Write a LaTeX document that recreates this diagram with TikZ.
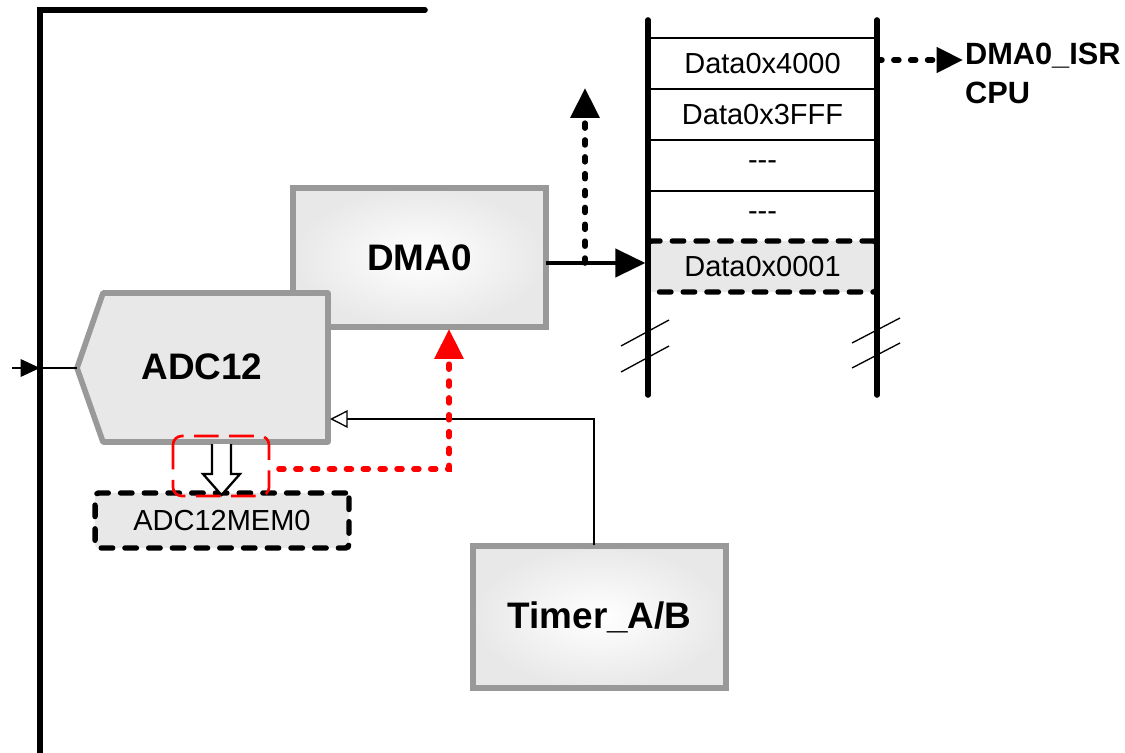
\documentclass[tikz,border=0pt]{standalone}
\usepackage{fontspec}
\setmainfont{Liberation Sans}
\usetikzlibrary{arrows.meta}

\begin{document}
\begin{tikzpicture}[x=0.02cm,y=-0.02cm,
    unit/.style={draw=gray!80,line width=3.2pt,shading=radial,inner color=white,outer color=gray!18,
        minimum width=5.06cm,minimum height=2.78cm,font=\fontsize{21}{25}\selectfont\bfseries},
    cell/.style={draw,line width=0.6pt,minimum width=4.58cm,minimum height=1.02cm,inner sep=0pt,
        font=\fontsize{16.5}{20}\selectfont},
    flagbox/.style={draw,line width=3.1pt,dash pattern=on 6.5pt off 7pt,line cap=round,
        rounded corners=2pt,fill=gray!18},
    bus/.style={line width=3.2pt,line cap=round},
    wire/.style={line width=0.75pt},
    dots/.style={line width=3.2pt,dash pattern=on 2.8pt off 6.8pt,line cap=round},
    tip/.style={-{Triangle[length=17pt,width=16pt]}}]
    \useasboundingbox (0,0) rectangle (1125,753);

    % frame
    \draw[bus,line join=miter] (425,10) -- (40,10) -- (40,760);

    % DMA0
    \node[unit] (dma) at (419.5,257.5) {DMA0};

    % ADC12
    \filldraw[draw=gray!80,fill=gray!18,line width=3.2pt,line join=round]
        (103,293) -- (328,293) -- (328,442) -- (103,442) -- (77,368) -- cycle;
    \node[font=\fontsize{21}{25}\selectfont\bfseries] (adc) at (202,367) {ADC12};
    \coordinate (adcin) at (77,368);
    \coordinate (adctrig) at (330,419);

    % input
    \coordinate (inp) at (12,368);
    \coordinate (inbus) at (40,368);
    \draw[wire,-{Triangle[length=11pt,width=10pt]}] (inp) -- (inbus);
    \draw[wire] (inbus) -- (adcin);

    % Timer
    \node[unit,minimum height=2.84cm] (timer) at (599.5,617) {Timer\_A/B};
    \coordinate (tmrout) at (594,545);
    \draw[wire,-{Triangle[open,length=10pt,width=10pt]}] (tmrout) |- (adctrig);

    % ADC12MEM0
    \node[flagbox,minimum width=5.08cm,minimum height=1.1cm,font=\fontsize{16.5}{20}\selectfont]
        (mem0) at (222,520.5) {ADC12MEM0};
    \filldraw[fill=white,line width=1.3pt] (212,444) -- (212,474) -- (203,474) -- (221.5,495)
        -- (240,474) -- (231,474) -- (231,444);
    \draw[red,line width=1.5pt,dash pattern=on 14pt off 6pt,rounded corners=5pt]
        (173,436) rectangle (269,496);

    % request to DMA0
    \coordinate (memflag) at (279,469);
    \coordinate (dmareq) at (449,329);
    \draw[dots,red,tip] (memflag) -| (dmareq);

    % memory
    \node[cell] (m1) at (762.5,63.5) {Data0x4000};
    \node[cell] (m2) at (762.5,114.5) {Data0x3FFF};
    \node[cell] (m3) at (762.5,165.5) {-{}-{}-};
    \node[cell] (m4) at (762.5,216.5) {-{}-{}-};
    \node[cell,flagbox] (m5) at (762.5,266.5) {Data0x0001};
    \draw[bus] (648,20) -- (648,395);
    \draw[bus] (877,20) -- (877,395);
    \draw[wire] (621,346) -- (669,320) (621,372) -- (669,346);
    \draw[wire] (852,343) -- (900,318) (852,368) -- (900,343);

    % DMA0 transfer
    \coordinate (dmaout) at (546,263);
    \coordinate (busup) at (585,263);
    \coordinate (busend) at (585,88);
    \draw[line width=2pt,tip] (dmaout) -- (dmaout -| m5.west);
    \draw[dots,tip] (busup) -- (busend);

    % interrupt
    \node[anchor=base west,inner sep=1pt,font=\fontsize{17.5}{21}\selectfont\bfseries]
        (isr) at (963,65) {DMA0\_ISR};
    \node[anchor=base west,inner sep=1pt,font=\fontsize{17.5}{21}\selectfont\bfseries]
        (cpu) at (963,104) {CPU};
    \coordinate (isrsrc) at (877,60);
    \draw[dots,-{Triangle[length=15pt,width=14pt]}] (isrsrc) -- (isrsrc -| isr.west);
\end{tikzpicture}
\end{document}
